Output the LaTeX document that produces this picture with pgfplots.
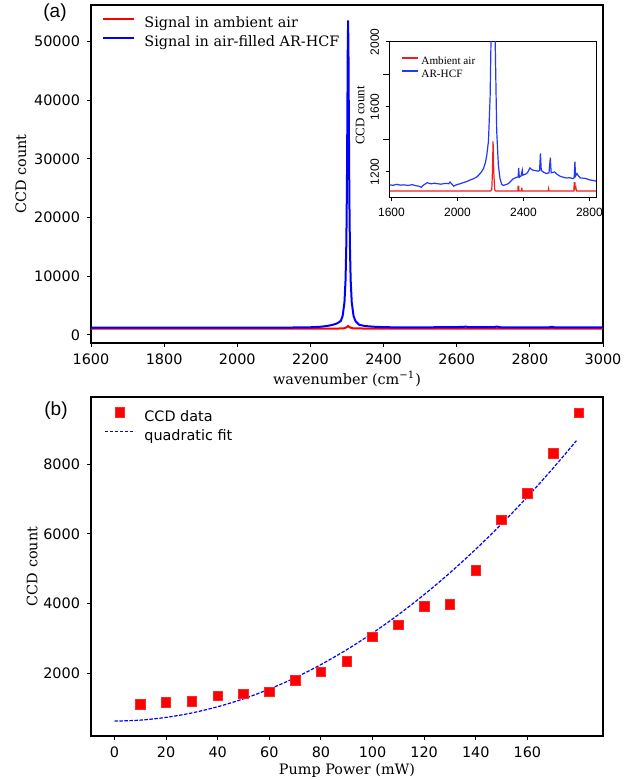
\documentclass[border=0pt]{standalone}
\usepackage{fontspec}
\setmainfont{DejaVu Serif}
\newfontfamily\dvsans{DejaVu Sans}
\newfontfamily\lsans{Liberation Sans}
\newfontfamily\lserif{Liberation Serif}
\usepackage{pgfplots}
\pgfplotsset{compat=1.18}

\definecolor{mplred}{RGB}{255,0,0}
\definecolor{mplblue}{RGB}{0,0,255}
\definecolor{insred}{RGB}{240,30,30}
\definecolor{insblue}{RGB}{35,55,255}

\pgfplotsset{
  mpl/.style={
    scale only axis,
    axis line style={line width=0.6pt},
    tick align=outside,
    tick pos=left,
    major tick length=2pt,
    tick style={line width=0.5pt, black},
    ticklabel style={font=\dvsans\fontsize{7.2}{8}\selectfont},
    /pgf/number format/assume math mode=true,
    /pgf/number format/1000 sep={},
    scaled ticks=false,
    label style={font=\fontsize{7.2}{8}\selectfont},
  },
  sqleg/.style={legend image code/.code={\path (0pt,0pt) (15pt,0pt);
    \draw[mark repeat=2, mark phase=2, yshift=2.6pt, ##1] plot coordinates {(0pt,0pt) (7.5pt,0pt) (15pt,0pt)};}},
}

\begin{document}
\begin{tikzpicture}
\useasboundingbox (0,0) rectangle (317pt,390pt);

% (a) spectrum
\begin{axis}[mpl,
  at={(45.5pt,218.5pt)}, anchor=south west,
  width=256pt, height=169pt,
  xmin=1600, xmax=3000, ymin=-1400, ymax=56240,
  xtick={1600,1800,...,3000},
  ytick={0,10000,...,50000},
  xlabel={wavenumber (cm\textsuperscript{−1})},
  ylabel={CCD count},
  xlabel style={at={(axis description cs:0.5,-0.106)}, anchor=center},
  ylabel style={at={(axis description cs:-0.137,0.5)}, anchor=center},
  legend style={at={(rel axis cs:0.0215,0.965)}, anchor=north west,
    draw=none, fill=none, inner sep=0pt,
    font=\fontsize{7.2}{8}\selectfont,
    nodes={inner sep=0pt, text height=5.3pt, text depth=1.5pt},
    row sep=2.55pt,
    /tikz/every odd column/.style={column sep=4.5pt}},
  legend cell align=left,
  legend image code/.code={\draw[#1] (0pt,2.6pt) -- (15.5pt,2.6pt);},
]
\addplot[mplred, line width=1pt] coordinates {
  (1600,1050) (2000,1050) (2250,1050) (2290,1080) (2298,1250) (2303,1500)
  (2308,1250) (2318,1080) (2400,1050) (3000,1050)};
\addlegendentry{Signal in ambient air}
\addplot[mplblue, line width=1pt] coordinates {
  (1600,1200) (1700,1210) (1800,1200) (1900,1205) (2000,1210) (2100,1220)
  (2150,1240) (2200,1280) (2230,1380) (2250,1550) (2262,1720) (2273,1950)
  (2283,2350) (2288,3200) (2293,5500) (2296,9300) (2298,15100) (2299,20100)
  (2300,27400) (2301,37500) (2302,48400) (2303,53600) (2304,48400)
  (2305,37500) (2306,27400) (2307,20100) (2308,15100) (2310,9300)
  (2313,5500) (2318,3200) (2323,2350) (2333,1720) (2348,1500) (2378,1350)
  (2420,1280) (2500,1260) (2560,1300) (2600,1310) (2625,1380) (2635,1300)
  (2700,1290) (2710,1400) (2720,1280) (2800,1250) (2850,1250) (2860,1350)
  (2870,1250) (3000,1250)};
\addlegendentry{Signal in air-filled AR-HCF}
\end{axis}

% inset
\begin{axis}[mpl,
  at={(194.5pt,291pt)}, anchor=south west,
  width=103.5pt, height=78pt,
  axis background/.style={fill=white},
  axis line style={line width=0.5pt},
  major tick length=1.5pt,
  xmin=1585, xmax=2840, ymin=1040, ymax=2000,
  xtick={1600,2000,2400,2800},
  ytick={1200,1600,2000},
  minor ytick={1400,1800},
  ticklabel style={font=\lsans\fontsize{6}{7}\selectfont},
  yticklabel style={rotate=90, anchor=south},
  ylabel={CCD count},
  ylabel style={font=\lserif\fontsize{6.5}{7}\selectfont,
    at={(axis description cs:-0.14,0.53)}, anchor=center},
  legend style={at={(rel axis cs:0.058,0.912)}, anchor=north west,
    draw=none, fill=none, inner sep=0pt,
    font=\lserif\fontsize{5.6}{6}\selectfont,
    nodes={inner sep=0pt, text height=4pt, text depth=1.2pt},
    row sep=1.3pt,
    /tikz/every odd column/.style={column sep=1pt}},
  legend cell align=left,
  legend image code/.code={\draw[#1, line width=1pt] (0pt,1.85pt) -- (8pt,1.85pt);},
]
\addplot[insred, line width=0.6pt] coordinates {
  (1588,1083) (2200,1083) (2208,1090) (2212,1200) (2216,1388) (2220,1200)
  (2226,1090) (2232,1083) (2366,1083) (2368,1113) (2371,1113) (2373,1083)
  (2388,1083) (2390,1104) (2392,1083) (2551,1083) (2553,1096) (2555,1083)
  (2706,1083) (2708,1134) (2712,1134) (2714,1100) (2718,1106) (2721,1083)
  (2840,1083)};
\addlegendentry{Ambient air}
\addplot[insblue, line width=0.6pt] coordinates {
  (1588,1121) (1610,1118) (1630,1124) (1655,1119) (1676,1121) (1700,1117)
  (1725,1122) (1750,1115) (1766,1113) (1780,1106) (1795,1120) (1817,1134)
  (1840,1127) (1860,1131) (1877,1128) (1900,1125) (1925,1130) (1947,1128)
  (1955,1138) (1977,1113) (1995,1122) (2017,1128) (2040,1136) (2058,1142)
  (2075,1150) (2098,1159) (2115,1168) (2128,1180) (2145,1200) (2158,1221)
  (2170,1260) (2178,1305) (2188,1390) (2198,1660) (2204,2050) (2214,3000)
  (2228,2050) (2233,1750) (2238,1451) (2248,1242) (2258,1159) (2268,1125)
  (2278,1117) (2292,1122) (2308,1128) (2325,1145) (2339,1159) (2359,1167)
  (2368,1170) (2371,1225) (2375,1167) (2385,1175) (2393,1211) (2396,1180)
  (2405,1184) (2419,1190) (2430,1205) (2439,1225) (2450,1215) (2459,1211)
  (2475,1208) (2489,1205) (2498,1210) (2503,1315) (2508,1210) (2520,1200)
  (2539,1190) (2555,1195) (2563,1288) (2568,1195) (2580,1198) (2589,1200)
  (2605,1185) (2620,1175) (2640,1168) (2660,1163) (2680,1165) (2700,1159)
  (2708,1165) (2712,1263) (2716,1175) (2725,1190) (2732,1178) (2745,1163)
  (2765,1162) (2780,1159) (2800,1152) (2820,1148) (2840,1144)};
\addlegendentry{AR-HCF}
\end{axis}

% (b) power dependence
\begin{axis}[mpl,
  at={(45.5pt,22pt)}, anchor=south west,
  width=256pt, height=169.5pt,
  xmin=-9.1, xmax=189.3, ymin=200, ymax=9930,
  xtick={0,20,...,160},
  ytick={2000,4000,6000,8000},
  xlabel={Pump Power (mW)},
  ylabel={CCD count},
  xlabel style={at={(axis description cs:0.5,-0.101)}, anchor=center},
  ylabel style={at={(axis description cs:-0.115,0.5)}, anchor=center},
  legend style={at={(rel axis cs:0.025,0.970)}, anchor=north west,
    draw=none, fill=none, inner sep=0pt,
    font=\dvsans\fontsize{7.2}{8}\selectfont,
    nodes={inner sep=0pt, text height=5.3pt, text depth=1.5pt},
    row sep=2.7pt,
    /tikz/every odd column/.style={column sep=4.5pt}},
  legend cell align=left,
  legend image code/.code={\draw[#1] (0pt,2.6pt) -- (15pt,2.6pt);},
]
\addplot[only marks, mark=square*, mark size=2.4pt, mplred,
  mark options={draw=mplred!85!white, fill=mplred}, sqleg]
  coordinates {
  (10,1113) (20,1161) (30,1199) (40,1351) (50,1409) (60,1466) (70,1790)
  (80,2038) (90,2334) (100,3049) (110,3392) (120,3927) (130,3984)
  (140,4947) (150,6406) (160,7169) (170,8304) (180,9468)};
\addlegendentry{CCD data}
\addplot[mplblue, line width=0.6pt, dash pattern=on 1.7pt off 0.8pt, smooth] coordinates {
  (0,627) (10,655) (20,734) (30,862) (40,1040) (50,1267) (60,1545)
  (70,1872) (80,2250) (90,2677) (100,3154) (110,3681) (120,4258)
  (130,4884) (140,5561) (150,6287) (160,7063) (170,7890) (179,8676)};
\addlegendentry{quadratic fit}
\end{axis}

\node[font=\lsans\fontsize{9.5}{11}\selectfont] at (27.5pt,383.5pt) {(a)};
\node[font=\lsans\fontsize{9.5}{11}\selectfont] at (28pt,184.5pt) {(b)};
\end{tikzpicture}
\end{document}
